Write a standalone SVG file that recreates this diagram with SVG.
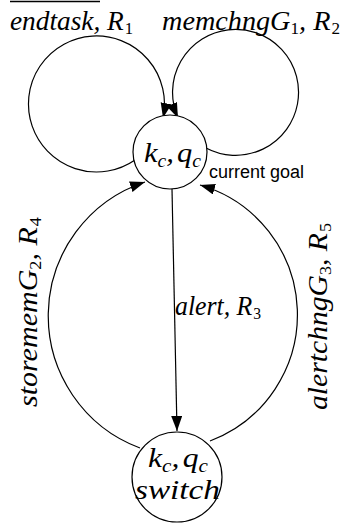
<svg xmlns="http://www.w3.org/2000/svg" width="347" height="527" viewBox="0 0 347 527">
<style>
.e{fill:none;stroke:#000;stroke-width:1.2}
.n{fill:#fff;stroke:#000;stroke-width:1.2}
.m{font-family:"Liberation Serif","DejaVu Serif",serif;font-style:italic;font-size:28px;fill:#000}
.b{font-size:27px}
.s{font-size:17px;font-style:normal}
.sc{font-size:18px}
.a{font-family:"Liberation Sans",Arial,sans-serif;font-size:18px;fill:#000}
</style>
<defs>
<marker id="ar" markerUnits="userSpaceOnUse" markerWidth="16" markerHeight="12" refX="15" refY="5.5" orient="auto">
<path d="M0,0 L15,5.5 L0,11 z" fill="#000"/>
</marker>
</defs>
<g id="connectors">
<path class="e" d="M135,160 A68,68 0 1 1 163,118" marker-end="url(#ar)"/>
<path class="e" d="M206,148 A63,63 0 1 0 178,118" marker-end="url(#ar)"/>
<path class="e" d="M140,448 A141,141 0 0 1 145,182" marker-end="url(#ar)"/>
<path class="e" d="M210,441 A135,135 0 0 0 200,185" marker-end="url(#ar)"/>
<path class="e" d="M172,189 L177,431" marker-end="url(#ar)"/>
</g>
<g id="goal">
<circle class="n" cx="170" cy="152" r="37"/>
<text class="m" x="144" y="162" textLength="57" lengthAdjust="spacingAndGlyphs">k<tspan class="sc" dy="5">c</tspan><tspan dy="-5">,</tspan><tspan dx="3">q</tspan><tspan class="sc" dy="5">c</tspan></text>
<text class="a" x="209" y="178">current goal</text>
</g>
<g id="switch">
<circle class="n" cx="177" cy="477" r="45"/>
<text class="m b" x="148" y="467" textLength="60" lengthAdjust="spacingAndGlyphs">k<tspan class="sc" dy="5">c</tspan><tspan dy="-5">,</tspan><tspan dx="3">q</tspan><tspan class="sc" dy="5">c</tspan></text>
<text class="m b" x="135" y="499" textLength="85" lengthAdjust="spacingAndGlyphs">switch</text>
</g>
<g id="labels">
<line x1="10" y1="1.5" x2="100" y2="1.5" stroke="#000" stroke-width="1.5"/>
<text class="m" x="10" y="30" textLength="123" lengthAdjust="spacingAndGlyphs">endtask, R<tspan class="s" dx="1" dy="4">1</tspan></text>
<text class="m" x="162" y="30" textLength="178" lengthAdjust="spacingAndGlyphs">memchngG<tspan class="s" dy="4">1</tspan><tspan dy="-4">, R</tspan><tspan class="s" dx="1" dy="4">2</tspan></text>
<text class="m" x="175" y="315" textLength="86" lengthAdjust="spacingAndGlyphs">alert, R<tspan class="s" dx="1" dy="4">3</tspan></text>
<text class="m" transform="translate(37,407) rotate(-90)" textLength="190" lengthAdjust="spacingAndGlyphs">storememG<tspan class="s" dy="4">2</tspan><tspan dy="-4">, R</tspan><tspan class="s" dx="1" dy="4">4</tspan></text>
<text class="m" transform="translate(327,410) rotate(-90)" textLength="187" lengthAdjust="spacingAndGlyphs">alertchngG<tspan class="s" dy="4">3</tspan><tspan dy="-4">, R</tspan><tspan class="s" dx="1" dy="4">5</tspan></text>
</g>
</svg>
